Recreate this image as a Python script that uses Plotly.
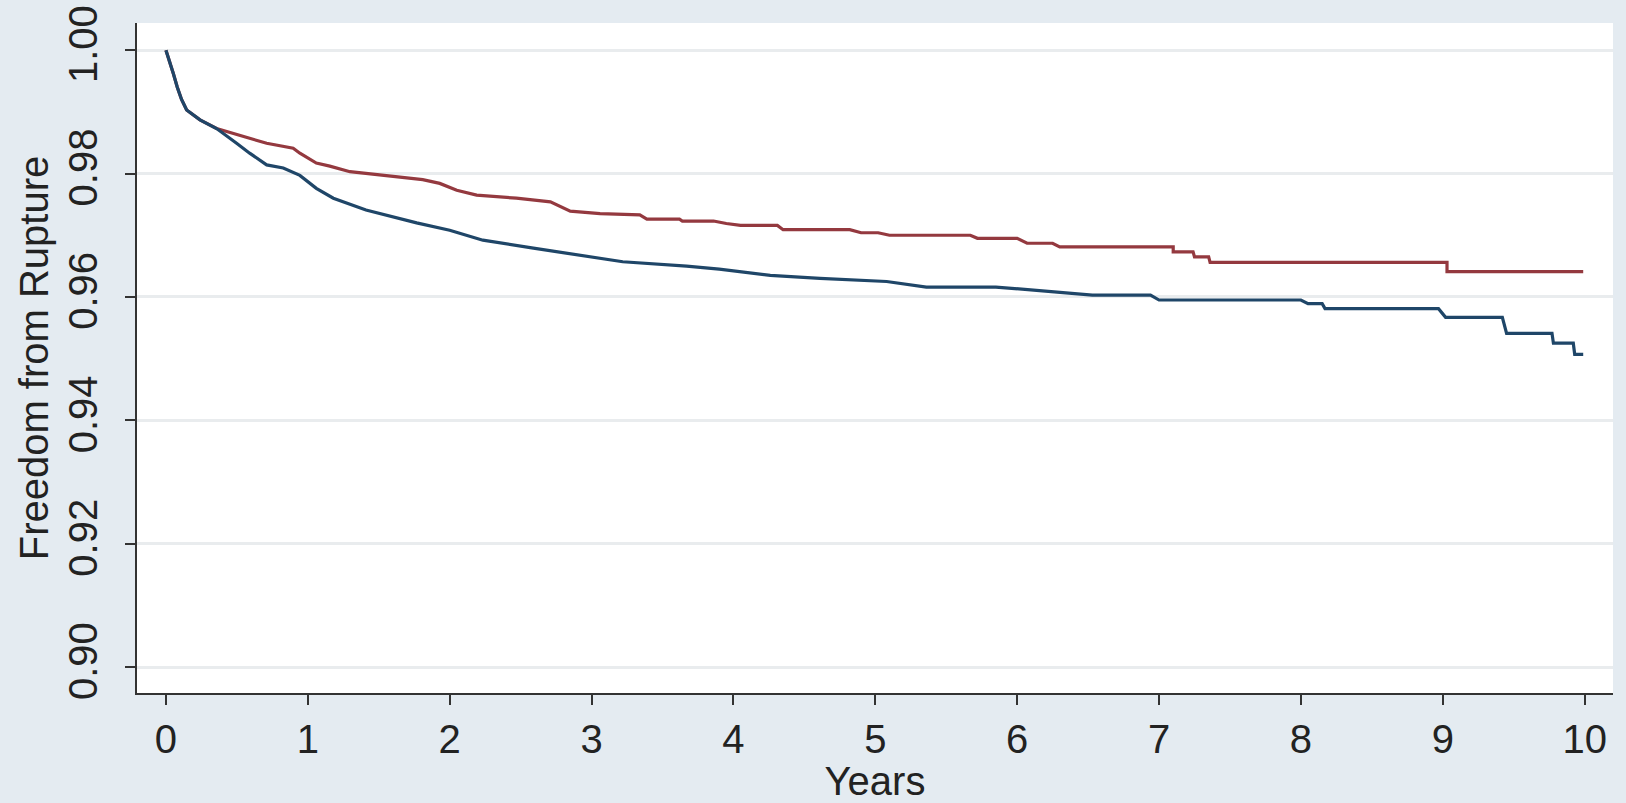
import plotly.graph_objects as go

# Kaplan-Meier style curves read from the reference (points traced along each curve;
# repeated x values mark the visible vertical steps)
red_t = [0.000, 0.025, 0.052, 0.080, 0.110, 0.146, 0.240, 0.357, 0.545, 0.710, 0.897, 0.944,
         1.060, 1.155, 1.297, 1.530, 1.810, 1.930, 2.050, 2.190, 2.470, 2.710,
         2.850, 3.060, 3.340, 3.390, 3.620, 3.640, 3.860, 3.950, 4.050, 4.310,
         4.350, 4.820, 4.900, 5.020, 5.100, 5.670, 5.720, 6.000, 6.070, 6.250,
         6.300, 7.100, 7.100, 7.240, 7.250, 7.350, 7.360, 9.030, 9.030, 9.990]
red_v = [1.0000, 0.9983, 0.9962, 0.9940, 0.9920, 0.9903, 0.9887, 0.9873, 0.9860, 0.9849, 0.9841, 0.9833,
         0.9817, 0.9812, 0.9803, 0.9797, 0.9790, 0.9784, 0.9773, 0.9765, 0.9760, 0.9754,
         0.9739, 0.9735, 0.9733, 0.9726, 0.9726, 0.9723, 0.9723, 0.9719, 0.9716, 0.9716,
         0.9709, 0.9709, 0.9704, 0.9704, 0.9700, 0.9700, 0.9695, 0.9695, 0.9687, 0.9687,
         0.9681, 0.9681, 0.9673, 0.9673, 0.9665, 0.9665, 0.9656, 0.9656, 0.9641, 0.9641]

blue_t = [0.000, 0.025, 0.052, 0.080, 0.110, 0.146, 0.240, 0.357, 0.400, 0.498, 0.590, 0.710,
          0.827, 0.944, 1.060, 1.180, 1.410, 1.767, 2.000, 2.234, 2.590, 2.890,
          3.220, 3.670, 3.900, 4.260, 4.610, 5.080, 5.360, 5.850, 6.250, 6.530,
          6.940, 7.000, 8.000, 8.050, 8.150, 8.170, 8.970, 9.020, 9.420, 9.450,
          9.770, 9.780, 9.920, 9.930, 9.990]
blue_v = [1.0000, 0.9983, 0.9962, 0.9940, 0.9920, 0.9903, 0.9887, 0.9873, 0.9866, 0.9849, 0.9833, 0.9814,
          0.9809, 0.9797, 0.9776, 0.9760, 0.9741, 0.9720, 0.9708, 0.9692, 0.9679, 0.9668,
          0.9657, 0.9650, 0.9645, 0.9635, 0.9630, 0.9625, 0.9616, 0.9616, 0.9608, 0.9603,
          0.9603, 0.9595, 0.9595, 0.9589, 0.9589, 0.9581, 0.9581, 0.9567, 0.9567, 0.9541,
          0.9541, 0.9525, 0.9525, 0.9507, 0.9507]

x_ticks = [0, 1, 2, 3, 4, 5, 6, 7, 8, 9, 10]
y_ticks = [0.90, 0.92, 0.94, 0.96, 0.98, 1.00]
y_tick_labels = ["0.90", "0.92", "0.94", "0.96", "0.98", "1.00"]

FONT = "Liberation Sans, Arial, Helvetica, sans-serif"
TXT = "#222222"
FS = 40

fig = go.Figure()
fig.add_trace(go.Scatter(x=red_t, y=red_v, mode="lines",
                         line=dict(color="#94393f", width=3.2), showlegend=False))
fig.add_trace(go.Scatter(x=blue_t, y=blue_v, mode="lines",
                         line=dict(color="#1f4668", width=3.2), showlegend=False))

fig.update_layout(
    width=1626, height=803,
    margin=dict(l=137, r=13, t=23, b=110),
    paper_bgcolor="#e4ebf1",
    plot_bgcolor="#ffffff",
    font=dict(family=FONT, size=FS, color=TXT),
    xaxis=dict(
        range=[-0.204, 10.2], tickvals=x_ticks, automargin=False,
        showgrid=False, zeroline=False,
        showline=True, linecolor="#333333", linewidth=2,
        ticks="outside", ticklen=10, tickwidth=2, tickcolor="#333333",
        tickfont=dict(size=FS, color=TXT),
        title=dict(text="Years", font=dict(size=FS, color=TXT), standoff=4),
    ),
    yaxis=dict(
        range=[0.8958, 1.0044], tickvals=y_ticks, ticktext=y_tick_labels, automargin=False,
        tickangle=-90, ticklabelstandoff=12,
        showgrid=True, gridcolor="#e9ecee", gridwidth=3,
        zeroline=False,
        showline=True, linecolor="#333333", linewidth=2,
        ticks="outside", ticklen=10, tickwidth=2, tickcolor="#333333",
        tickfont=dict(size=FS, color=TXT),
        title=dict(text="Freedom from Rupture", font=dict(size=FS, color=TXT), standoff=0),
    ),
)

fig.write_html("out.html")
